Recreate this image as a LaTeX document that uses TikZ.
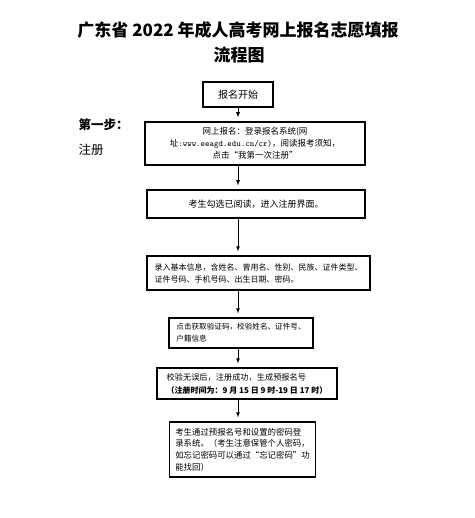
\documentclass[tikz,border=0pt]{standalone}
\usepackage{fontspec}
\setmainfont{Noto Sans CJK SC}
\usepackage{tikz}

\tikzset{
  stepbox/.style={rectangle,draw,line width=1.1pt,inner xsep=6pt,inner ysep=3pt,
    font=\fontsize{8.5}{12}\selectfont},
  flow/.style={line width=0.8pt,-latex,shorten >=4pt}
}

\begin{document}
\begin{tikzpicture}[x=1pt,y=-1pt]
\useasboundingbox (0,0) rectangle (474,518);
%\draw[help lines,step=50] (0,0) grid (474,518);
\path
(238,30) node(title) [font=\fontsize{17}{20}\selectfont\bfseries] {广东省 2022 年成人高考网上报名志愿填报}
(239,55) node(title2) [font=\fontsize{17}{20}\selectfont\bfseries] {流程图}
(75,125) node(stepone) [anchor=west,font=\fontsize{12.5}{15}\selectfont\bfseries] {第一步：}
(75,150) node(reglabel) [anchor=west,font=\fontsize{12.5}{15}\selectfont] {注册}
(238,94.5) node(start) [stepbox,minimum width=70pt,minimum height=25pt,font=\fontsize{10}{12}\selectfont] {报名开始}
(255,143.5) node(online) [stepbox,minimum width=220pt,minimum height=43pt,align=center]
  {网上报名：登录报名系统(网\\址{\ttfamily :www.eeagd.edu.cn/cr)}，阅读报考须知，\\点击“我第一次注册”}
(256,204) node(agree) [stepbox,minimum width=218pt,minimum height=28pt,font=\fontsize{9}{12}\selectfont] {考生勾选已阅读，进入注册界面。}
(258.5,273) node(info) [stepbox,minimum width=223pt,minimum height=34pt,align=left,font=\fontsize{8}{12}\selectfont]
  {录入基本信息，含姓名、曾用名、性别、民族、证件类型、\\证件号码、手机号码、出生日期、密码。}
(241,333) node(verify) [stepbox,minimum width=144pt,minimum height=30pt,align=left,font=\fontsize{7.6}{12}\selectfont]
  {点击获取验证码，校验姓名、证件号、\\户籍信息}
(247,383.5) node(done) [stepbox,minimum width=180pt,minimum height=31pt,align=left,font=\fontsize{8.2}{13}\selectfont]
  {校验无误后，注册成功，生成预报名号\\{\bfseries\fontsize{8}{13}\selectfont （注册时间为：9 月 15 日 9 时-19 日 17 时）}}
(242.5,449.5) node(login) [stepbox,minimum width=143pt,minimum height=55pt,align=left,font=\fontsize{8.4}{11.7}\selectfont]
  {考生通过预报名号和设置的密码登\\录系统。（考生注意保管个人密码，\\如忘记密码可以通过“忘记密码”功\\能找回）};
\draw[flow] (start.south) -- (start.south |- online.north);
\draw[flow] (start.south |- online.south) -- (start.south |- agree.north);
\draw[flow] (start.south |- agree.south) -- (start.south |- info.north);
\draw[flow] (start.south |- info.south) -- (start.south |- verify.north);
\draw[flow] (start.south |- verify.south) -- (start.south |- done.north);
\draw[flow] (start.south |- done.south) -- (start.south |- login.north);
\end{tikzpicture}
\end{document}
